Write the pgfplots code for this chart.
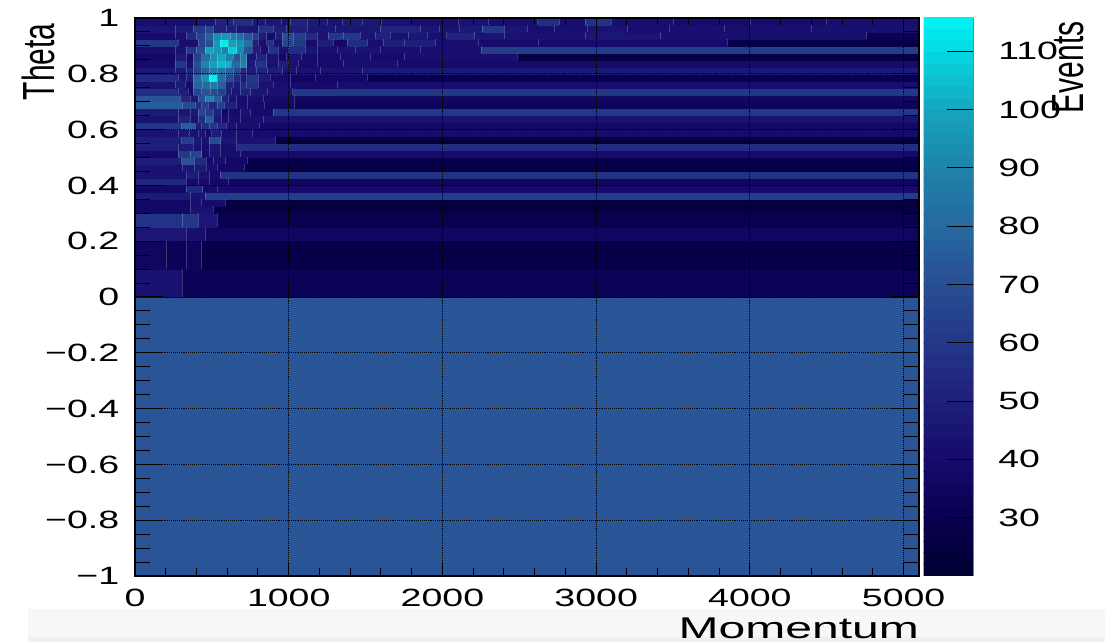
\documentclass[border=0pt]{standalone}
\usepackage{pgfplots}
\pgfplotsset{compat=1.18}
\usepackage{fontspec}
\setmainfont{Liberation Sans}
\def\RR#1#2#3,#4,{\ifx e#4\expandafter\RRend\else\expandafter\RRgo\fi{#1}{#2}{#3}{#4}}
\def\RRend#1#2#3#4{}
\def\RRgo#1#2#3#4#5,{(#3,#1)[#4] (#5,#1)[#4] (#5,#2)[#4] (#3,#2)[#4] \RR{#1}{#2}#5,}
\def\SS#1#2#3,#4,{\ifx e#4\expandafter\SSend\else\expandafter\SSgo\fi{#1}{#2}{#3}{#4}}
\def\SSend#1#2#3#4{}
\def\SSgo#1#2#3#4#5,{(#3,#1) (#3,#2) (#3,nan) \SS{#1}{#2}#5,}
\def\Rows#1{%
#1{-1}{0}{0,73,5100,e,}%
#1{0}{.1}{0,44,308,33,5100,e,}%
#1{.1}{.2}{0,36,206,33,332,34,434,28,5100,e,}%
#1{.2}{.25}{0,46,336,42,456,36,5100,e,}%
#1{.25}{.3}{0,58,310,60,412,46,536,31,5100,e,}%
#1{.3}{.325}{0,38,358,44,510,27,5100,e,}%
#1{.325}{.35}{0,38,358,42,434,40,586,25,5100,e,}%
#1{.35}{.375}{0,48,358,44,456,62,5100,e,}%
#1{.375}{.4}{0,38,332,54,441,40,536,40,5100,e,}%
#1{.4}{.425}{0,54,332,40,412,40,484,38,608,36,5100,e,}%
#1{.425}{.45}{0,44,332,50,412,44,484,40,553,58,5100,e,}%
#1{.45}{.475}{0,44,310,46,384,48,462,42,536,38,710,28,5100,e,}%
#1{.475}{.5}{0,50,304,72,384,55,462,40,510,42,586,38,731,28,5100,e,}%
#1{.5}{.525}{0,40,282,60,358,66,434,40,484,44,553,42,684,40,5100,e,}%
#1{.525}{.55}{0,50,282,48,380,44,434,42,484,46,558,42,662,56,5100,e,}%
#1{.55}{.575}{0,50,304,62,380,46,434,44,484,68,558,46,662,44,911,24,5100,e,}%
#1{.575}{.6}{0,44,282,46,354,44,412,46,456,40,499,50,564,42,657,42,760,40,5100,e,}%
#1{.6}{.625}{0,60,304,76,391,50,434,56,484,60,536,54,592,44,662,42,809,38,5100,e,}%
#1{.625}{.65}{0,44,282,52,362,44,412,56,456,76,510,48,564,42,608,42,684,42,835,44,5100,e,}%
#1{.65}{.675}{0,48,282,46,362,46,412,66,456,62,510,52,564,38,608,40,684,44,753,40,901,60,5100,e,}%
#1{.675}{.7}{0,75,310,68,391,56,434,64,477,54,536,64,579,52,657,42,731,40,840,38,1035,34,5100,e,}%
#1{.7}{.725}{0,72,293,54,362,48,412,70,456,90,510,76,564,52,608,44,662,40,731,42,835,40,1035,37,5100,e,}%
#1{.725}{.75}{0,56,282,50,347,40,380,66,434,72,488,68,536,64,586,50,629,46,684,52,753,46,861,44,1026,60,5100,e,}%
#1{.75}{.775}{0,44,260,48,326,40,380,78,441,80,488,86,536,76,586,52,640,48,684,55,727,58,803,44,901,42,1009,40,1313,42,5100,e,}%
#1{.775}{.8}{0,55,282,46,336,50,380,80,434,94,484,115,536,82,586,68,640,55,684,48,727,60,803,48,879,40,1009,36,1172,38,1508,30,5100,e,}%
#1{.8}{.825}{0,46,260,48,336,52,380,66,434,76,484,88,536,84,586,78,640,68,684,55,727,50,788,52,861,50,961,46,1052,44,1204,44,1476,48,5100,e,}%
#1{.825}{.85}{0,40,260,60,332,42,380,70,434,90,484,98,536,104,586,102,629,80,684,90,727,48,781,58,857,44,933,50,998,44,1063,40,1183,40,1356,42,1704,40,5100,e,}%
#1{.85}{.875}{0,38,260,48,332,40,380,64,434,82,488,94,536,100,586,90,640,72,684,86,727,46,788,52,857,44,933,38,987,44,1085,40,1183,40,1335,42,1530,40,1754,42,2484,27,5100,e,}%
#1{.875}{.9}{0,42,260,44,332,60,401,70,456,100,510,96,564,90,608,108,662,92,705,72,760,50,814,42,868,58,933,44,998,56,1107,45,1183,42,1313,44,1432,44,1595,42,1857,42,2251,62,5100,e,}%
#1{.9}{.925}{0,60,282,42,412,66,456,70,510,96,553,115,608,98,662,94,705,82,760,52,803,42,857,58,901,44,955,66,1031,60,1107,40,1183,50,1291,38,1378,55,1508,42,1617,50,1754,50,1955,42,2233,40,2626,40,3854,28,5100,e,}%
#1{.925}{.95}{0,40,260,42,336,55,401,66,456,76,510,92,564,96,618,88,662,82,705,74,760,64,803,50,857,40,911,50,955,68,1031,62,1107,55,1183,45,1259,60,1356,60,1465,45,1562,52,1662,44,1777,46,1902,42,2028,52,2210,45,2404,44,2930,46,3420,43,4756,32,5100,e,}%
#1{.95}{.975}{0,46,260,48,380,60,456,66,510,52,597,50,662,46,803,58,901,50,987,50,1118,46,1300,46,1594,52,1857,46,1982,44,2108,47,2256,60,2404,46,2553,42,2729,43,2941,44,3204,42,3477,42,3831,42,4402,43,5100,e,}%
#1{.975}{1}{0,42,400,46,520,52,640,56,760,48,850,46,950,44,1010,52,1120,47,1250,44,1350,48,1480,46,1600,44,1800,42,2100,44,2300,42,2620,56,2760,42,2930,58,3100,42,3500,41,4000,41,4500,42,5100,e,}%
}
\def\RowA#1#2#3{\RR{#1}{#2}#3}
\def\RowB#1#2#3{\SS{#1}{#2}#3}
\edef\cells{\Rows\RowA}
\edef\seps{\Rows\RowB}
\edef\barcells{\RR{20}{22}0,21,1,e,\RR{22}{24}0,23,1,e,\RR{24}{26}0,25,1,e,\RR{26}{28}0,27,1,e,\RR{28}{30}0,29,1,e,\RR{30}{32}0,31,1,e,\RR{32}{34}0,33,1,e,\RR{34}{36}0,35,1,e,\RR{36}{38}0,37,1,e,\RR{38}{40}0,39,1,e,\RR{40}{42}0,41,1,e,\RR{42}{44}0,43,1,e,\RR{44}{46}0,45,1,e,\RR{46}{48}0,47,1,e,\RR{48}{50}0,49,1,e,\RR{50}{52}0,51,1,e,\RR{52}{54}0,53,1,e,\RR{54}{56}0,55,1,e,\RR{56}{58}0,57,1,e,\RR{58}{60}0,59,1,e,\RR{60}{62}0,61,1,e,\RR{62}{64}0,63,1,e,\RR{64}{66}0,65,1,e,\RR{66}{68}0,67,1,e,\RR{68}{70}0,69,1,e,\RR{70}{72}0,71,1,e,\RR{72}{74}0,73,1,e,\RR{74}{76}0,75,1,e,\RR{76}{78}0,77,1,e,\RR{78}{80}0,79,1,e,\RR{80}{82}0,81,1,e,\RR{82}{84}0,83,1,e,\RR{84}{86}0,85,1,e,\RR{86}{88}0,87,1,e,\RR{88}{90}0,89,1,e,\RR{90}{92}0,91,1,e,\RR{92}{94}0,93,1,e,\RR{94}{96}0,95,1,e,\RR{96}{98}0,97,1,e,\RR{98}{100}0,99,1,e,\RR{100}{102}0,101,1,e,\RR{102}{104}0,103,1,e,\RR{104}{106}0,105,1,e,\RR{106}{108}0,107,1,e,\RR{108}{110}0,109,1,e,\RR{110}{112}0,111,1,e,\RR{112}{114}0,113,1,e,\RR{114}{116}0,115,1,e,}
\pgfplotsset{
  colormap={evmap}{rgb255(20pt)=(0,0,48); rgb255(30pt)=(8,0,78); rgb255(40pt)=(22,10,108); rgb255(50pt)=(30,30,122); rgb255(60pt)=(35,55,135); rgb255(73pt)=(41,85,150); rgb255(80pt)=(38,105,160); rgb255(90pt)=(30,130,170); rgb255(100pt)=(22,165,190); rgb255(110pt)=(5,215,225); rgb255(116pt)=(0,245,245)},
  cellstyle/.style={patch,patch type=rectangle,shader=flat,point meta=explicit},
  sepstyle/.style={no marks,white,opacity=.2,line width=.6pt,unbounded coords=jump,forget plot},
  tl/.style={font=\fontsize{25}{26}\selectfont,xscale=1.5,transform shape},
}
\begin{document}
\begin{tikzpicture}[x=1pt,y=1pt]
\path[use as bounding box] (0,0) rectangle (1105,642);
\fill[black!3] (28,0) rectangle (1105,33);
\fill[black!6] (28,0) rectangle (1105,5);
\begin{axis}[
  at={(135pt,66pt)},anchor=south west,scale only axis,width=784pt,height=558pt,
  xmin=0,xmax=5100,ymin=-1,ymax=1,
  axis on top,
  colormap name=evmap,point meta min=20,point meta max=115.7,
  xtick={0,1000,2000,3000,4000,5000},xticklabels={0,1000,2000,3000,4000,5000},
  ytick={-1,-.8,-.6,-.4,-.2,0,.2,.4,.6,.8,1},
  yticklabels={−1,−0.8,−0.6,−0.4,−0.2,0,0.2,0.4,0.6,0.8,1},
  minor x tick num=4,
  major tick length=14pt,minor tick length=7.5pt,
  tick align=inside,tick style={black,line width=1pt},
  axis line style={black,line width=1.5pt},
  grid=major,grid style={black,line width=.9pt,densely dotted},
  xticklabel style={tl,yshift=-10pt},yticklabel style={tl,xshift=-7pt},
  xlabel={\scalebox{1.6}[1]{Momentum}},
  xlabel style={at={(axis description cs:1,0)},anchor=base east,yshift=-62pt,inner sep=0pt,font=\fontsize{30}{32}\selectfont},
]
\edef\cellplot{\noexpand\addplot[cellstyle] coordinates {\cells};}\cellplot
\edef\sepplot{\noexpand\addplot[sepstyle] coordinates {\seps};}\sepplot
\end{axis}
\begin{axis}[
  at={(135pt,66pt)},anchor=south west,scale only axis,width=784pt,height=558pt,
  xmin=0,xmax=5100,ymin=-1,ymax=1,
  axis on top,
  xtick=\empty,
  ytick={-1,-.8,-.6,-.4,-.2,0,.2,.4,.6,.8,1},yticklabels={},
  minor y tick num=3,
  major tick length=28pt,minor tick length=15pt,
  tick align=inside,tick style={black,line width=1pt},
  axis line style={black,line width=1.5pt},
]
\end{axis}
\begin{axis}[
  at={(923.5pt,66pt)},anchor=south west,scale only axis,width=50pt,height=558pt,
  xmin=0,xmax=1,ymin=20,ymax=115.7,
  axis on top,
  colormap name=evmap,point meta min=20,point meta max=115.7,
  axis x line=none,axis y line*=right,
  xtick=\empty,
  ytick={30,40,50,60,70,80,90,100,110},
  yticklabels={30,40,50,60,70,80,90,100,110},
  major tick length=27pt,
  tick align=inside,
  ytick style={black,line width=1.1pt},
  axis line style={black!50,line width=1pt},
  yticklabel style={tl,anchor=west,xshift=13pt},
]
\edef\barplot{\noexpand\addplot[cellstyle] coordinates {\barcells};}\barplot
\end{axis}
\node[rotate=90,anchor=south east,font=\fontsize{30}{32}\selectfont] at (58,622) {\scalebox{1}[1.5]{Theta}};
\node[rotate=90,anchor=south east,font=\fontsize{30}{32}\selectfont] at (1087,624) {\scalebox{1}[1.5]{Events}};
\end{tikzpicture}
\end{document}
